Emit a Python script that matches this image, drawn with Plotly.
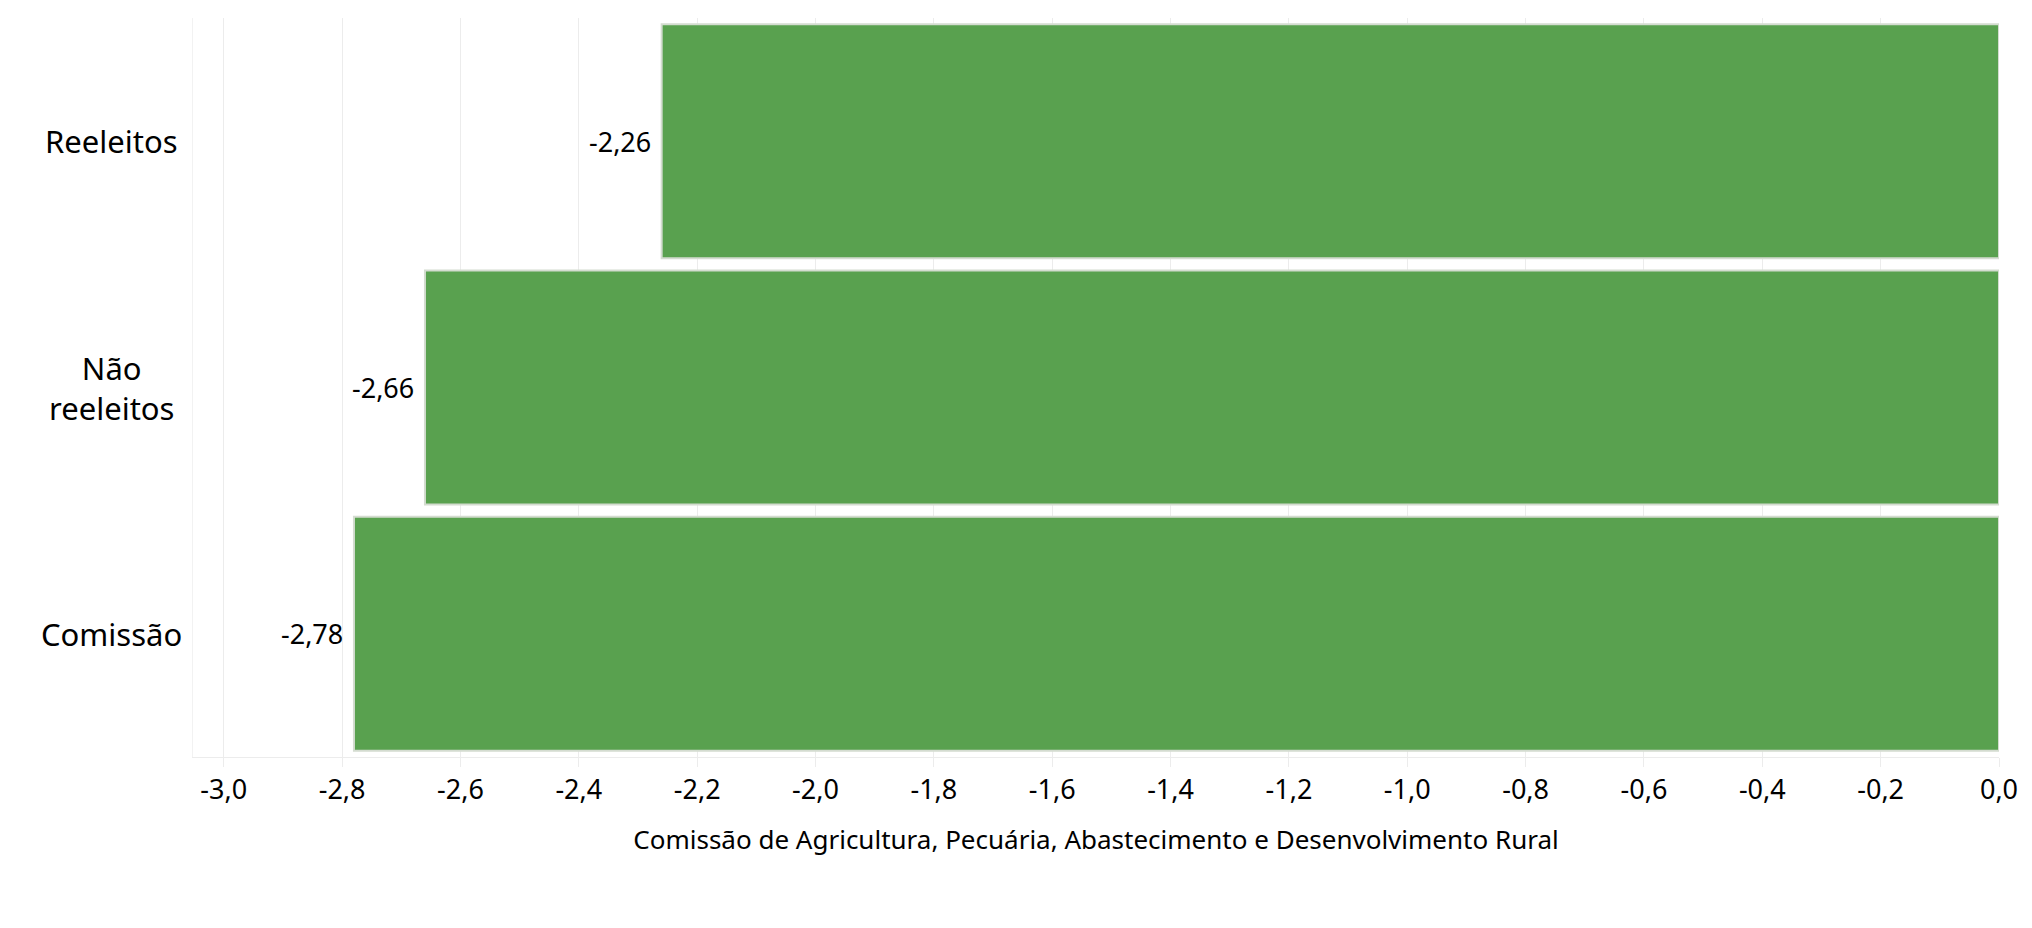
import plotly.graph_objects as go

categories = ["Reeleitos", "Não<br>reeleitos", "Comissão"]
values = [-2.26, -2.66, -2.78]
tick_vals = [-3.0, -2.8, -2.6, -2.4, -2.2, -2.0, -1.8, -1.6, -1.4, -1.2, -1.0, -0.8, -0.6, -0.4, -0.2, 0.0]
tick_text = ["-3,0", "-2,8", "-2,6", "-2,4", "-2,2", "-2,0", "-1,8", "-1,6", "-1,4", "-1,2",
             "-1,0", "-0,8", "-0,6", "-0,4", "-0,2", "0,0"]
axis_title = "Comissão de Agricultura, Pecuária, Abastecimento e Desenvolvimento Rural"

_FONT = "Noto Sans"
_GREEN = "#59a14f"
_GRID = "#ececec"

fig = go.Figure()
fig.add_bar(
    x=values,
    y=categories,
    orientation="h",
    width=0.95,
    marker={"color": _GREEN, "line": {"color": "#d4dcd0", "width": 2}},
    hoverinfo="skip",
)

# value labels just left of each bar end
for cat, val in zip(categories, values):
    fig.add_annotation(
        x=val, y=cat, xref="x", yref="y",
        text=f"{val:.2f}".replace(".", ","),
        showarrow=False, xanchor="right", xshift=-9,
        font={"family": _FONT, "size": 27, "color": "#000000"},
    )

# category labels, centred like the original
for cat in categories:
    fig.add_annotation(
        x=-0.0454, y=cat, xref="paper", yref="y",
        text=cat, showarrow=False, xanchor="center", align="center",
        font={"family": _FONT, "size": 31, "color": "#000000"},
    )

fig.update_layout(
    width=2016,
    height=912,
    template="plotly_white",
    plot_bgcolor="#ffffff",
    paper_bgcolor="#ffffff",
    margin={"l": 185, "r": 25, "t": 10, "b": 163},
    showlegend=False,
    font={"family": _FONT, "color": "#000000"},
)
fig.update_xaxes(
    range=[-3.052, 0],
    tickvals=tick_vals,
    ticktext=tick_text,
    tickfont={"size": 27, "color": "#000000"},
    showgrid=True,
    gridcolor=_GRID,
    gridwidth=1,
    zeroline=False,
    showline=True,
    linecolor=_GRID,
    linewidth=1,
    ticks="outside",
    ticklen=9,
    tickcolor=_GRID,
    automargin=False,
    title={"text": axis_title, "font": {"size": 26, "color": "#000000"}, "standoff": 24},
    fixedrange=True,
)
fig.update_yaxes(
    categoryorder="array",
    categoryarray=categories,
    range=[2.5, -0.5],
    showticklabels=False,
    showgrid=False,
    zeroline=False,
    showline=True,
    linecolor="#f2f2f2",
    automargin=False,
    fixedrange=True,
)

fig.write_html("out.html")
